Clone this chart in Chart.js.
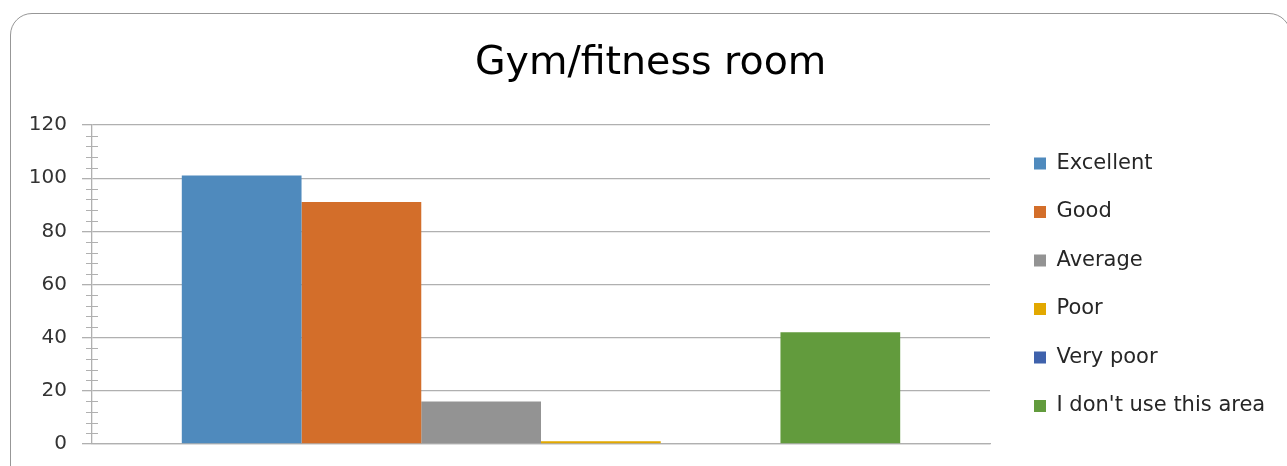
<!DOCTYPE html>
<html>
<head>
<meta charset="utf-8">
<script src="https://cdn.jsdelivr.net/npm/chart.js@4.4.1/dist/chart.umd.min.js"></script>
<style>
  html, body { margin: 0; padding: 0; background: #ffffff; overflow: hidden; }
  #wrap { position: relative; width: 1287px; height: 466px; }
  #frame { position: absolute; left: 10px; top: 13px; width: 1281px; height: 520px;
           border: 1.5px solid #979797; border-radius: 22px; box-sizing: border-box; }
  #c { position: absolute; left: 0; top: 0; }
</style>
</head>
<body>
<div id="wrap">
  <div id="frame"></div>
  <canvas id="c" width="1287" height="466"></canvas>
</div>
<script>
// ---- data ----
const chartTitle = 'Gym/fitness room';
const categories = [''];
const seriesNames = ['Excellent', 'Good', 'Average', 'Poor', 'Very poor', "I don't use this area"];
const seriesValues = [101, 91, 16, 1, 0, 42];
const seriesColors = ['#4F8ABD', '#D36E2A', '#939393', '#E2A800', '#3F62AC', '#629B3D'];
const yTickValues = [0, 20, 40, 60, 80, 100, 120];
const yMinorStep = 4;

// ---- layout / style ----
const FONT = '"DejaVu Sans"';
const W = 1287, H = 466;
const PLOT_LEFT = 92, PLOT_RIGHT = 990, PLOT_TOP = 125, PLOT_BOTTOM = 444;
const TITLE_CENTER_X = 652.5, TITLE_CENTER_Y = 63.5;
const LEG_FONT = 21, LEG_BOX = 12, LEG_PAD = 27.5, LEG_SQUARE_X = 1034;
const LEG_LEFT = LEG_SQUARE_X - LEG_PAD;
const TITLE_SIZE = 39.5;
const TICK_SIZE = 20;
const GRID = '#b0b0b0';

const mctx = document.createElement('canvas').getContext('2d');
mctx.font = LEG_FONT + 'px ' + FONT;
const maxTextW = Math.max(...seriesNames.map(s => mctx.measureText(s).width));
const legendW = LEG_PAD + LEG_BOX + LEG_FONT / 2 + maxTextW + 10;
const padRight = W - LEG_LEFT - legendW;
const padLeft = Math.min(26, 2 * TITLE_CENTER_X - W + padRight);
const titleLineH = TITLE_SIZE * 1.2;
const titlePadTop = TITLE_CENTER_Y - titleLineH / 2;
const titlePadBottom = PLOT_TOP - titlePadTop - titleLineH;

const datasets = seriesNames.map((name, i) => ({
  label: name,
  data: [seriesValues[i]],
  backgroundColor: seriesColors[i],
  borderWidth: 0,
  categoryPercentage: 0.8,
  barPercentage: 1.0
}));

const minorTicks = {
  id: 'minorTicks',
  afterDraw(chart) {
    const y = chart.scales.y;
    const ctx = chart.ctx;
    const x0 = chart.chartArea.left;
    ctx.save();
    ctx.strokeStyle = GRID;
    ctx.lineWidth = 1.2;
    ctx.beginPath();
    for (let v = y.min; v <= y.max; v += yMinorStep) {
      if (yTickValues.includes(v)) continue;
      const py = Math.round(y.getPixelForValue(v)) + 0.5;
      ctx.moveTo(x0 - 6, py);
      ctx.lineTo(x0 + 6, py);
    }
    ctx.stroke();
    ctx.restore();
  }
};

new Chart(document.getElementById('c'), {
  type: 'bar',
  data: { labels: categories, datasets },
  options: {
    responsive: false,
    animation: false,
    devicePixelRatio: 1,
    layout: { padding: { left: padLeft, right: padRight, top: 0, bottom: H - PLOT_BOTTOM } },
    plugins: {
      title: {
        display: true,
        text: chartTitle,
        color: '#000000',
        font: { family: FONT, size: TITLE_SIZE, weight: 'normal' },
        padding: { top: titlePadTop, bottom: titlePadBottom }
      },
      legend: {
        display: true,
        position: 'right',
        align: 'end',
        maxWidth: 600,
        labels: {
          boxWidth: LEG_BOX,
          boxHeight: LEG_BOX,
          padding: LEG_PAD,
          color: '#262626',
          font: { family: FONT, size: LEG_FONT }
        }
      },
      tooltip: { enabled: false }
    },
    scales: {
      x: {
        display: true,
        ticks: { display: false },
        grid: { display: false, drawTicks: false },
        border: { display: true, color: GRID, width: 1.3 }
      },
      y: {
        min: 0,
        max: 120,
        afterFit(s) { s.width = PLOT_LEFT - padLeft; },
        afterBuildTicks(s) { s.ticks = yTickValues.map(v => ({ value: v })); },
        ticks: {
          padding: 15,
          color: '#333333',
          font: { family: FONT, size: TICK_SIZE, lineHeight: 0.6 }
        },
        grid: { color: GRID, lineWidth: 1.3, tickLength: 10, tickColor: GRID },
        border: { display: true, color: GRID, width: 1.3 }
      },
      gap: {
        type: 'linear',
        position: 'right',
        display: true,
        afterFit(s) { s.width = LEG_LEFT - PLOT_RIGHT; },
        ticks: { display: false },
        grid: { display: false, drawTicks: false },
        border: { display: false }
      }
    }
  },
  plugins: [minorTicks]
});
</script>
</body>
</html>
